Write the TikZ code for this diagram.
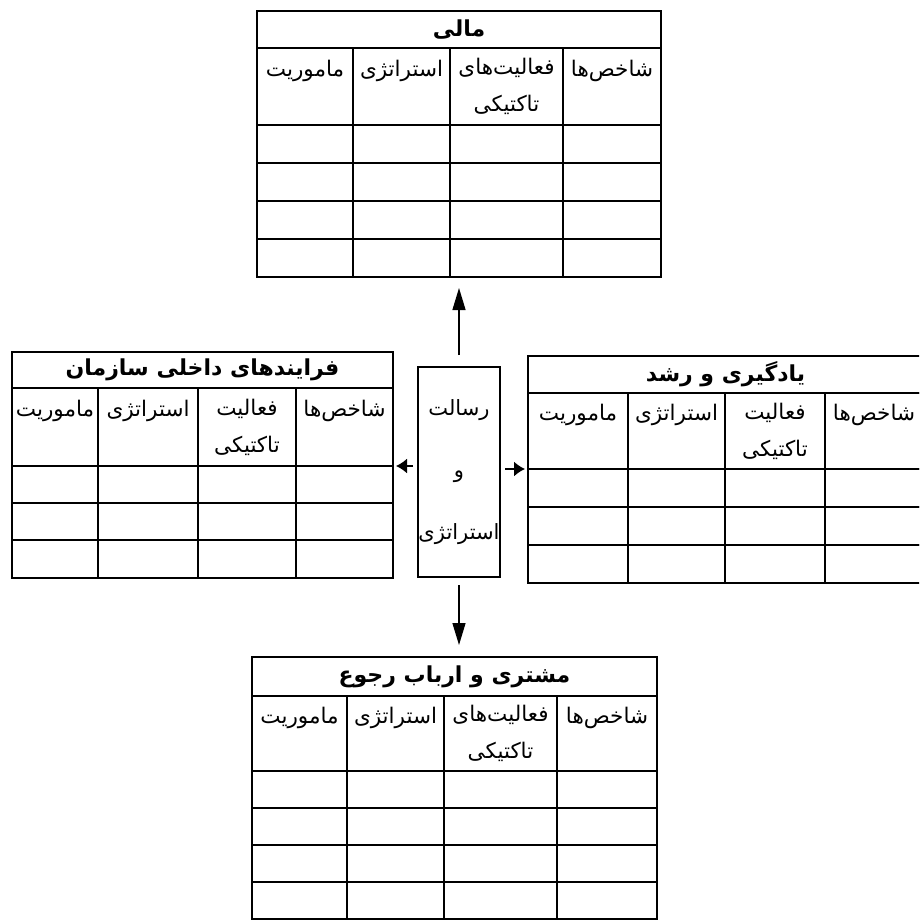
\documentclass[tikz,border=0pt]{standalone}
\usepackage{fontspec}
\usepackage{tikz}
\usetikzlibrary{arrows, arrows.meta, positioning}

\newfontfamily\arabicfont[Script=Arabic]{DejaVu Sans}
\TeXXeTstate=1
\newcommand{\fa}[1]{\beginR #1\endR}

\begin{document}
\begin{tikzpicture}[x=1pt, y=-1pt]
    \tikzstyle{ttl} = [
        rectangle, draw, line width=1.4pt, inner sep=0pt, outer sep=0pt,
        minimum height=37pt, font=\arabicfont\bfseries\fontsize{22}{26}\selectfont
    ]

    \tikzstyle{head} = [
        rectangle, draw, line width=1.4pt, inner sep=0pt, outer sep=0pt,
        minimum height=77pt, align=center,
        font=\arabicfont\fontsize{21.5}{37}\selectfont
    ]

    \tikzstyle{cell} = [
        rectangle, draw, line width=1.4pt, inner sep=0pt, outer sep=0pt,
        minimum height=38pt
    ]

    \tikzstyle{box} = [
        rectangle, draw, line width=1.4pt, inner sep=0pt, outer sep=0pt,
        minimum width=82pt, minimum height=210pt, align=center,
        font=\arabicfont\fontsize{21}{62}\selectfont
    ]

    \tikzstyle{varr} = [-{Triangle[length=22pt, width=13pt]}, line width=1.3pt]
    \tikzstyle{harr} = [-{Latex[length=11pt, width=15pt]}, line width=1.6pt]

    \clip (0,0) rectangle (919,923);

    % Financial
    \node[ttl, anchor=north west, minimum width=404pt] (fin) at (257,11) {\fa{مالی}};
    \node[head, anchor=north west, minimum width=96pt] (fh1) at (fin.south west) {\fa{ماموریت}\\\mbox{}};
    \node[head, anchor=north west, minimum width=97pt] (fh2) at (fh1.north east) {\fa{استراتژی}\\\mbox{}};
    \node[head, anchor=north west, minimum width=113pt] (fh3) at (fh2.north east) {\fa{فعالیت^^^^200cهای}\\\fa{تاکتیکی}};
    \node[head, anchor=north west, minimum width=98pt] (fh4) at (fh3.north east) {\fa{شاخص^^^^200cها}\\\mbox{}};

    \node[cell, anchor=north west, minimum width=96pt] (fa1) at (fh1.south west) {};
    \node[cell, anchor=north west, minimum width=97pt] (fa2) at (fh2.south west) {};
    \node[cell, anchor=north west, minimum width=113pt] (fa3) at (fh3.south west) {};
    \node[cell, anchor=north west, minimum width=98pt] (fa4) at (fh4.south west) {};
    \node[cell, anchor=north west, minimum width=96pt] (fb1) at (fa1.south west) {};
    \node[cell, anchor=north west, minimum width=97pt] (fb2) at (fa2.south west) {};
    \node[cell, anchor=north west, minimum width=113pt] (fb3) at (fa3.south west) {};
    \node[cell, anchor=north west, minimum width=98pt] (fb4) at (fa4.south west) {};
    \node[cell, anchor=north west, minimum width=96pt] (fc1) at (fb1.south west) {};
    \node[cell, anchor=north west, minimum width=97pt] (fc2) at (fb2.south west) {};
    \node[cell, anchor=north west, minimum width=113pt] (fc3) at (fb3.south west) {};
    \node[cell, anchor=north west, minimum width=98pt] (fc4) at (fb4.south west) {};
    \node[cell, anchor=north west, minimum width=96pt] (fd1) at (fc1.south west) {};
    \node[cell, anchor=north west, minimum width=97pt] (fd2) at (fc2.south west) {};
    \node[cell, anchor=north west, minimum width=113pt] (fd3) at (fc3.south west) {};
    \node[cell, anchor=north west, minimum width=98pt] (fd4) at (fc4.south west) {};

    % Internal processes
    \node[ttl, anchor=north west, minimum width=381pt, minimum height=36pt] (proc) at (12,352) {\fa{فرایندهای داخلی سازمان}};
    \node[head, anchor=north west, minimum width=86pt, minimum height=78pt] (ph1) at (proc.south west) {\fa{ماموریت}\\\mbox{}};
    \node[head, anchor=north west, minimum width=100pt, minimum height=78pt] (ph2) at (ph1.north east) {\fa{استراتژی}\\\mbox{}};
    \node[head, anchor=north west, minimum width=98pt, minimum height=78pt] (ph3) at (ph2.north east) {\fa{فعالیت}\\\fa{تاکتیکی}};
    \node[head, anchor=north west, minimum width=97pt, minimum height=78pt] (ph4) at (ph3.north east) {\fa{شاخص^^^^200cها}\\\mbox{}};

    \node[cell, anchor=north west, minimum width=86pt, minimum height=37pt] (pa1) at (ph1.south west) {};
    \node[cell, anchor=north west, minimum width=100pt, minimum height=37pt] (pa2) at (ph2.south west) {};
    \node[cell, anchor=north west, minimum width=98pt, minimum height=37pt] (pa3) at (ph3.south west) {};
    \node[cell, anchor=north west, minimum width=97pt, minimum height=37pt] (pa4) at (ph4.south west) {};
    \node[cell, anchor=north west, minimum width=86pt, minimum height=37pt] (pb1) at (pa1.south west) {};
    \node[cell, anchor=north west, minimum width=100pt, minimum height=37pt] (pb2) at (pa2.south west) {};
    \node[cell, anchor=north west, minimum width=98pt, minimum height=37pt] (pb3) at (pa3.south west) {};
    \node[cell, anchor=north west, minimum width=97pt, minimum height=37pt] (pb4) at (pa4.south west) {};
    \node[cell, anchor=north west, minimum width=86pt, minimum height=38pt] (pc1) at (pb1.south west) {};
    \node[cell, anchor=north west, minimum width=100pt, minimum height=38pt] (pc2) at (pb2.south west) {};
    \node[cell, anchor=north west, minimum width=98pt, minimum height=38pt] (pc3) at (pb3.south west) {};
    \node[cell, anchor=north west, minimum width=97pt, minimum height=38pt] (pc4) at (pb4.south west) {};

    % Learning and growth
    \node[ttl, anchor=north west, minimum width=395pt] (learn) at (528,356) {\fa{یادگیری و رشد}};
    \node[head, anchor=north west, minimum width=100pt, minimum height=76pt] (lh1) at (learn.south west) {\fa{ماموریت}\\\mbox{}};
    \node[head, anchor=north west, minimum width=97pt, minimum height=76pt] (lh2) at (lh1.north east) {\fa{استراتژی}\\\mbox{}};
    \node[head, anchor=north west, minimum width=100pt, minimum height=76pt] (lh3) at (lh2.north east) {\fa{فعالیت}\\\fa{تاکتیکی}};
    \node[head, anchor=north west, minimum width=98pt, minimum height=76pt] (lh4) at (lh3.north east) {\fa{شاخص^^^^200cها}\\\mbox{}};

    \node[cell, anchor=north west, minimum width=100pt] (la1) at (lh1.south west) {};
    \node[cell, anchor=north west, minimum width=97pt] (la2) at (lh2.south west) {};
    \node[cell, anchor=north west, minimum width=100pt] (la3) at (lh3.south west) {};
    \node[cell, anchor=north west, minimum width=98pt] (la4) at (lh4.south west) {};
    \node[cell, anchor=north west, minimum width=100pt] (lb1) at (la1.south west) {};
    \node[cell, anchor=north west, minimum width=97pt] (lb2) at (la2.south west) {};
    \node[cell, anchor=north west, minimum width=100pt] (lb3) at (la3.south west) {};
    \node[cell, anchor=north west, minimum width=98pt] (lb4) at (la4.south west) {};
    \node[cell, anchor=north west, minimum width=100pt] (lc1) at (lb1.south west) {};
    \node[cell, anchor=north west, minimum width=97pt] (lc2) at (lb2.south west) {};
    \node[cell, anchor=north west, minimum width=100pt] (lc3) at (lb3.south west) {};
    \node[cell, anchor=north west, minimum width=98pt] (lc4) at (lb4.south west) {};

    % Customer
    \node[ttl, anchor=north west, minimum width=405pt, minimum height=39pt] (cust) at (252,657) {\fa{مشتری و ارباب رجوع}};
    \node[head, anchor=north west, minimum width=95pt, minimum height=75pt] (ch1) at (cust.south west) {\fa{ماموریت}\\\mbox{}};
    \node[head, anchor=north west, minimum width=97pt, minimum height=75pt] (ch2) at (ch1.north east) {\fa{استراتژی}\\\mbox{}};
    \node[head, anchor=north west, minimum width=113pt, minimum height=75pt] (ch3) at (ch2.north east) {\fa{فعالیت^^^^200cهای}\\\fa{تاکتیکی}};
    \node[head, anchor=north west, minimum width=100pt, minimum height=75pt] (ch4) at (ch3.north east) {\fa{شاخص^^^^200cها}\\\mbox{}};

    \node[cell, anchor=north west, minimum width=95pt, minimum height=37pt] (ca1) at (ch1.south west) {};
    \node[cell, anchor=north west, minimum width=97pt, minimum height=37pt] (ca2) at (ch2.south west) {};
    \node[cell, anchor=north west, minimum width=113pt, minimum height=37pt] (ca3) at (ch3.south west) {};
    \node[cell, anchor=north west, minimum width=100pt, minimum height=37pt] (ca4) at (ch4.south west) {};
    \node[cell, anchor=north west, minimum width=95pt, minimum height=37pt] (cb1) at (ca1.south west) {};
    \node[cell, anchor=north west, minimum width=97pt, minimum height=37pt] (cb2) at (ca2.south west) {};
    \node[cell, anchor=north west, minimum width=113pt, minimum height=37pt] (cb3) at (ca3.south west) {};
    \node[cell, anchor=north west, minimum width=100pt, minimum height=37pt] (cb4) at (ca4.south west) {};
    \node[cell, anchor=north west, minimum width=95pt, minimum height=37pt] (cc1) at (cb1.south west) {};
    \node[cell, anchor=north west, minimum width=97pt, minimum height=37pt] (cc2) at (cb2.south west) {};
    \node[cell, anchor=north west, minimum width=113pt, minimum height=37pt] (cc3) at (cb3.south west) {};
    \node[cell, anchor=north west, minimum width=100pt, minimum height=37pt] (cc4) at (cb4.south west) {};
    \node[cell, anchor=north west, minimum width=95pt, minimum height=37pt] (cd1) at (cc1.south west) {};
    \node[cell, anchor=north west, minimum width=97pt, minimum height=37pt] (cd2) at (cc2.south west) {};
    \node[cell, anchor=north west, minimum width=113pt, minimum height=37pt] (cd3) at (cc3.south west) {};
    \node[cell, anchor=north west, minimum width=100pt, minimum height=37pt] (cd4) at (cc4.south west) {};

    % Mission and strategy
    \node[box, anchor=north west] (mission) at (418,367) {\fa{رسالت}\\\fa{و}\\\fa{استراتژی}};

    % Arrows
    \draw[varr, shorten <=12pt, shorten >=11pt] (mission.north) -- (mission.north |- fd1.south);
    \draw[varr, shorten <=8pt, shorten >=12pt] (mission.south) -- (mission.south |- cust.north);
    \draw[harr, shorten <=5pt, shorten >=3pt] (mission.west |- ph4.south) -- (ph4.south east);
    \draw[harr, shorten <=5pt, shorten >=3pt] (mission.east |- lh1.south) -- (lh1.south west);

\end{tikzpicture}
\end{document}
